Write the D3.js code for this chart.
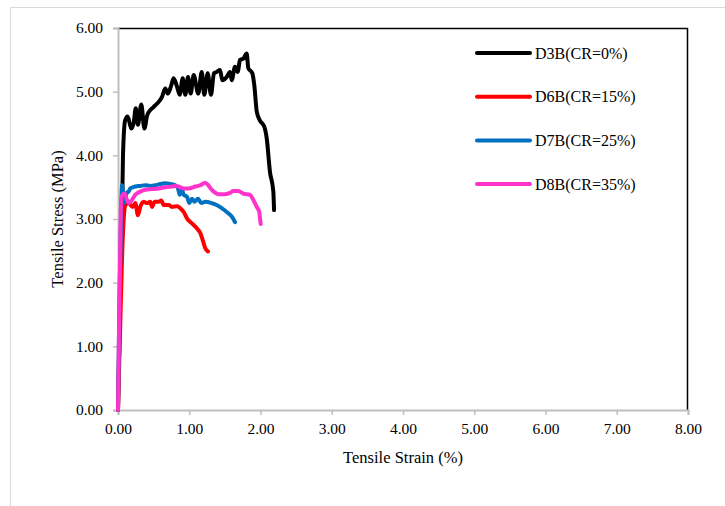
<!DOCTYPE html>
<html>
<head>
<meta charset="utf-8">
<script src="https://cdn.jsdelivr.net/npm/d3@7"></script>
<style>
  html, body { margin: 0; padding: 0; background: #fff; }
  svg { display: block; }
  text { font-family: "Liberation Serif", "DejaVu Serif", serif; fill: #000; }
</style>
</head>
<body>
<svg id="chart" width="725" height="506"></svg>
<script>
// Tensile stress–strain curves for four mixes
const seriesNames = ["D3B(CR=0%)", "D6B(CR=15%)", "D7B(CR=25%)", "D8B(CR=35%)"];
const seriesColors = ["#000000", "#ff0000", "#0070c0", "#ff33cc"];

// strain (%) values for each curve
const strainD3B = [0, 0.03, 0.06, 0.07, 0.10, 0.136, 0.187, 0.22, 0.25, 0.28, 0.327, 0.37, 0.41, 0.453, 0.50, 0.571, 0.618, 0.664, 0.70, 0.748, 0.78, 0.828, 0.866, 0.908, 0.945, 0.982, 1.02, 1.062, 1.127, 1.175, 1.211, 1.259, 1.305, 1.347, 1.385, 1.432, 1.464, 1.526, 1.572, 1.596, 1.642, 1.68, 1.712, 1.759, 1.806, 1.829, 1.885, 1.913, 1.947, 1.99, 2.053, 2.087, 2.133, 2.18, 2.19];
const stressD3B = [0, 1.73, 3.30, 4.00, 4.55, 4.61, 4.42, 4.51, 4.74, 4.48, 4.80, 4.42, 4.63, 4.71, 4.76, 4.84, 4.92, 5.05, 4.97, 5.10, 5.21, 5.08, 4.95, 5.21, 4.95, 5.23, 4.97, 5.26, 4.97, 5.31, 4.95, 5.29, 4.95, 5.29, 5.31, 5.34, 5.18, 5.23, 5.31, 5.18, 5.39, 5.31, 5.50, 5.52, 5.60, 5.37, 5.29, 5.10, 4.69, 4.55, 4.45, 4.27, 3.74, 3.43, 3.14];

const strainD6B = [0, 0.03, 0.056, 0.084, 0.105, 0.15, 0.206, 0.243, 0.28, 0.313, 0.36, 0.407, 0.453, 0.477, 0.515, 0.571, 0.608, 0.641, 0.712, 0.758, 0.828, 0.874, 0.922, 0.968, 1.039, 1.109, 1.155, 1.189, 1.225, 1.263];
const stressD6B = [0, 1.26, 2.36, 3.06, 3.22, 3.25, 3.19, 3.25, 3.06, 3.19, 3.27, 3.25, 3.27, 3.19, 3.27, 3.27, 3.29, 3.22, 3.22, 3.19, 3.20, 3.17, 3.11, 3.01, 2.93, 2.85, 2.78, 2.67, 2.54, 2.49];

const strainD7B = [0, 0.02, 0.04, 0.056, 0.074, 0.09, 0.122, 0.15, 0.173, 0.243, 0.313, 0.383, 0.453, 0.524, 0.594, 0.664, 0.734, 0.804, 0.842, 0.866, 0.898, 0.922, 0.968, 1.001, 1.039, 1.076, 1.123, 1.169, 1.225, 1.315, 1.385, 1.455, 1.526, 1.596, 1.642];
const stressD7B = [0, 1.73, 2.83, 3.53, 3.40, 3.25, 3.41, 3.43, 3.48, 3.51, 3.52, 3.53, 3.52, 3.53, 3.55, 3.56, 3.55, 3.53, 3.48, 3.38, 3.46, 3.38, 3.35, 3.25, 3.32, 3.27, 3.32, 3.25, 3.27, 3.25, 3.22, 3.17, 3.11, 3.04, 2.95];

const strainD8B = [0, 0.02, 0.035, 0.046, 0.066, 0.094, 0.126, 0.159, 0.196, 0.243, 0.313, 0.383, 0.477, 0.571, 0.664, 0.758, 0.804, 0.852, 0.922, 0.992, 1.085, 1.155, 1.221, 1.267, 1.315, 1.408, 1.502, 1.572, 1.618, 1.688, 1.759, 1.853, 1.899, 1.947, 1.983, 1.993, 2.003];
const stressD8B = [0, 1.73, 2.83, 3.33, 3.38, 3.40, 3.30, 3.25, 3.30, 3.38, 3.43, 3.46, 3.47, 3.48, 3.50, 3.51, 3.52, 3.51, 3.48, 3.48, 3.51, 3.53, 3.57, 3.53, 3.46, 3.39, 3.39, 3.41, 3.44, 3.44, 3.40, 3.38, 3.30, 3.19, 3.11, 3.01, 2.92];

const xTicks = [0, 1, 2, 3, 4, 5, 6, 7, 8];
const yTicks = [0, 1, 2, 3, 4, 5, 6];
const xTitle = "Tensile Strain (%)";
const yTitle = "Tensile Stress (MPa)";

const strains = [strainD3B, strainD6B, strainD7B, strainD8B];
const stresses = [stressD3B, stressD6B, stressD7B, stressD8B];
const series = seriesNames.map((name, i) => ({
  name, color: seriesColors[i],
  points: strains[i].map((s, j) => [s, stresses[i][j]])
}));

const svg = d3.select("#chart");
const plot = { left: 118, right: 688, top: 28, bottom: 410 };

const x = d3.scaleLinear().domain([0, 8]).range([plot.left, plot.right]);
const y = d3.scaleLinear().domain([0, 6]).range([plot.bottom, plot.top]);

// outer chart frame
svg.append("path")
  .attr("d", "M10.5,506 L10.5,7.5 L725,7.5")
  .attr("fill", "none").attr("stroke", "#d9d9d9").attr("stroke-width", 1);

// plot-area frame: top and right sides
svg.append("path")
  .attr("d", `M${plot.left},${plot.top + 0.5} L${plot.right - 0.5},${plot.top + 0.5} L${plot.right - 0.5},${plot.bottom}`)
  .attr("fill", "none").attr("stroke", "#000").attr("stroke-width", 1.5);

const fmt = d3.format(".2f");

const xAxis = svg.append("g")
  .attr("transform", `translate(0,${plot.bottom})`)
  .call(d3.axisBottom(x).tickValues(xTicks).tickFormat(fmt).tickSize(5).tickPadding(8));
const yAxis = svg.append("g")
  .attr("transform", `translate(${plot.left},0)`)
  .call(d3.axisLeft(y).tickValues(yTicks).tickFormat(fmt).tickSize(5).tickPadding(10));

[xAxis, yAxis].forEach(g => {
  g.select(".domain").attr("stroke", "#bfbfbf").attr("stroke-width", 2);
  g.selectAll(".tick line").attr("stroke", "#bfbfbf").attr("stroke-width", 1.5);
  g.selectAll(".tick text")
    .attr("font-family", "Liberation Serif, serif")
    .attr("font-size", 15.5).attr("fill", "#000");
});

// axis titles
svg.append("text")
  .attr("x", (plot.left + plot.right) / 2).attr("y", 463)
  .attr("text-anchor", "middle").attr("font-size", 16.5)
  .text(xTitle);
svg.append("text")
  .attr("transform", `translate(63,${(plot.top + plot.bottom) / 2}) rotate(-90)`)
  .attr("text-anchor", "middle").attr("font-size", 16.5)
  .text(yTitle);

// curves
const line = d3.line().curve(d3.curveMonotoneX).x(d => x(d[0])).y(d => y(d[1]));
svg.append("g").selectAll("path")
  .data(series).join("path")
  .attr("d", d => line(d.points))
  .attr("fill", "none")
  .attr("stroke", d => d.color)
  .attr("stroke-width", 4)
  .attr("stroke-linejoin", "round")
  .attr("stroke-linecap", "round");

// legend
const legend = svg.append("g").selectAll("g")
  .data(series).join("g")
  .attr("transform", (d, i) => `translate(477,${53 + i * 43.7})`);
legend.append("line")
  .attr("x1", 0).attr("x2", 53).attr("y1", 0).attr("y2", 0)
  .attr("stroke", d => d.color).attr("stroke-width", 4)
  .attr("stroke-linecap", "round");
legend.append("text")
  .attr("x", 58).attr("y", 0).attr("dy", "0.35em")
  .attr("font-size", 16)
  .text(d => d.name);
</script>
</body>
</html>
